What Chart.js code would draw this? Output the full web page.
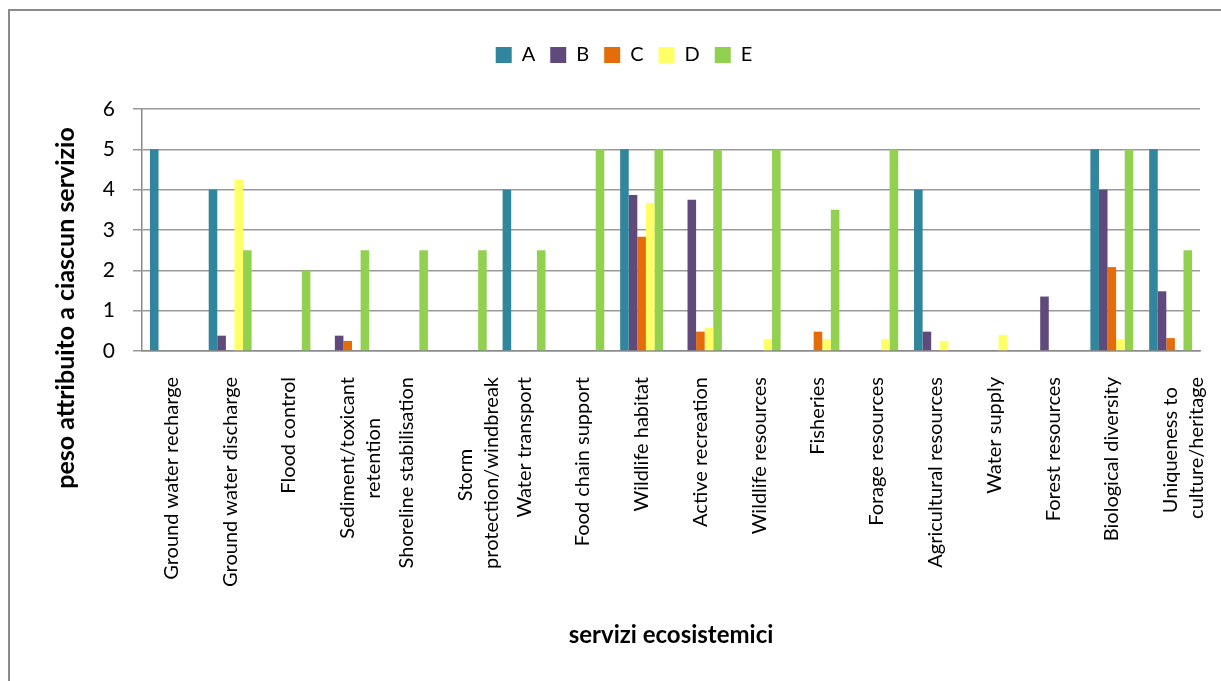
<!DOCTYPE html>
<html>
<head>
<meta charset="utf-8">
<title>servizi ecosistemici</title>
<script src="https://cdn.jsdelivr.net/npm/chart.js@4/dist/chart.umd.min.js"></script>
<style>
	html, body { margin: 0; padding: 0; background: #fff; overflow: hidden; }
	#wrap { position: relative; width: 1221px; height: 681px; }
	#frame {
		position: absolute; left: 8px; top: 9px; width: 1240px; height: 720px;
		border: 2px solid #8a8a8a; pointer-events: none;
	}
</style>
</head>
<body>
<div id="wrap">
	<canvas id="chart" width="1221" height="681"></canvas>
	<div id="frame"></div>
</div>
<script>
// categories (services), multi-line ones as arrays
const categories = [
	"Ground water recharge",
	"Ground water discharge",
	"Flood control",
	["Sediment/toxicant", "retention"],
	"Shoreline stabilisation",
	["Storm", "protection/windbreak"],
	"Water transport",
	"Food chain support",
	"Wildlife habitat",
	"Active recreation",
	"Wildlife resources",
	"Fisheries",
	"Forage resources",
	"Agricultural resources",
	"Water supply",
	"Forest resources",
	"Biological diversity",
	["Uniqueness to", "culture/heritage"],
];

// series values (0 = no bar)
const seriesA = [5, 4, 0, 0, 0, 0, 4, 0, 5, 0, 0, 0, 0, 4, 0, 0, 5, 5];
const seriesB = [0, 0.38, 0, 0.38, 0, 0, 0, 0, 3.87, 3.75, 0, 0, 0, 0.48, 0, 1.35, 4, 1.48];
const seriesC = [0, 0, 0, 0.25, 0, 0, 0, 0, 2.83, 0.48, 0, 0.48, 0, 0, 0, 0, 2.08, 0.32];
const seriesD = [0, 4.25, 0, 0, 0, 0, 0, 0, 3.67, 0.58, 0.3, 0.3, 0.3, 0.25, 0.4, 0, 0.3, 0];
const seriesE = [0, 2.5, 2, 2.5, 2.5, 2.5, 2.5, 5, 5, 5, 5, 3.5, 5, 0, 0, 0, 5, 2.5];

const seriesNames = ["A", "B", "C", "D", "E"];
const seriesColors = ["#31859c", "#604a7b", "#e46c0a", "#ffff66", "#92d050"];

const yTicks = [0, 1, 2, 3, 4, 5, 6];

const fontFamily = "Lato, 'Open Sans', sans-serif";
const tickFont = { family: fontFamily, size: 20, lineHeight: 1.3 };

// Excel centres the lines of a wrapped label; pad the shorter line so the
// right-aligned rotated text looks centred
const measureCtx = document.createElement("canvas").getContext("2d");
measureCtx.font = tickFont.size + "px " + fontFamily;
const centreLines = (label) => {
	if (!Array.isArray(label)) return label;
	const widths = label.map((l) => measureCtx.measureText(l).width);
	const maxW = Math.max(...widths);
	const spaceW = measureCtx.measureText(" ").width;
	return label.map((l, i) => {
		const n = Math.round((maxW - widths[i]) / 2 / spaceW);
		return l + " ".repeat(n);
	});
};

const yTitlePlugin = {
	id: "yTitle",
	afterDraw(chart) {
		const ctx = chart.ctx;
		ctx.save();
		ctx.translate(66, 308);
		ctx.rotate(-Math.PI / 2);
		ctx.font = "bold 25px " + fontFamily;
		ctx.fillStyle = "#000";
		ctx.textAlign = "center";
		ctx.textBaseline = "middle";
		ctx.fillText("peso attribuito a ciascun servizio", 0, 0);
		ctx.restore();
	},
};

const allSeries = [seriesA, seriesB, seriesC, seriesD, seriesE];

new Chart(document.getElementById("chart"), {
	type: "bar",
	data: {
		labels: categories,
		datasets: allSeries.map((values, i) => ({
			label: seriesNames[i],
			data: values,
			backgroundColor: seriesColors[i],
			borderWidth: 0,
			categoryPercentage: 0.73,
			barPercentage: 1,
		})),
	},
	options: {
		responsive: false,
		animation: false,
		layout: { padding: { left: 48, right: 21, top: 30, bottom: 0 } },
		plugins: {
			legend: {
				position: "top",
				labels: {
					boxWidth: 16,
					boxHeight: 16,
					padding: 15,
					color: "#000",
					font: { family: fontFamily, size: 20 },
				},
			},
			// empty title used only as a spacer between legend and plot
			title: {
				display: true,
				text: "",
				weight: 500,
				font: { size: 10, lineHeight: 1 },
				padding: { top: 0, bottom: 24 },
			},
			tooltip: { enabled: false },
		},
		scales: {
			x: {
				grid: { display: false },
				border: { display: true, color: "#8a8a8a", width: 1.5 },
				ticks: {
					autoSkip: false,
					minRotation: 90,
					maxRotation: 90,
					padding: 18,
					color: "#000",
					font: tickFont,
					callback: (value) => centreLines(categories[value]),
				},
				title: {
					display: true,
					text: "servizi ecosistemici",
					color: "#000",
					font: { family: fontFamily, size: 24, weight: "bold" },
					padding: { top: 0, bottom: 31 },
				},
				afterFit: (scale) => {
					scale.height = 330;
					scale.paddingLeft = 0;
					scale.paddingRight = 0;
				},
			},
			y: {
				min: 0,
				max: 6,
				afterBuildTicks: (scale) => {
					scale.ticks = yTicks.map((v) => ({ value: v }));
				},
				grid: { color: "#999999", lineWidth: 1.5, tickLength: 9 },
				border: { display: true, color: "#8a8a8a", width: 1.5 },
				ticks: {
					padding: 18,
					color: "#000",
					font: { family: fontFamily, size: 21 },
				},
				afterFit: (scale) => {
					scale.width = 94;
				},
			},
		},
	},
	plugins: [yTitlePlugin],
});
</script>
</body>
</html>
